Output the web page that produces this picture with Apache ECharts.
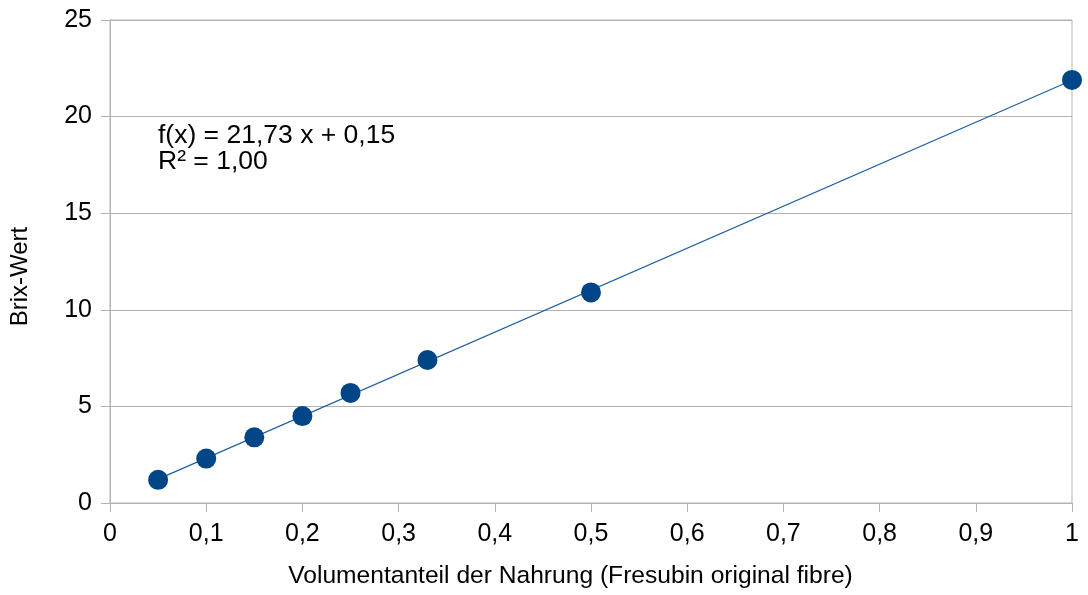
<!DOCTYPE html>
<html>
<head>
<meta charset="utf-8">
<script src="https://cdn.jsdelivr.net/npm/echarts@6/dist/echarts.min.js"></script>
<style>html,body{margin:0;padding:0;background:#fff}#c{width:1088px;height:595px}</style>
</head>
<body>
<div id="c"></div>
<script>
const xValues = [0.05, 0.1, 0.15, 0.2, 0.25, 0.33, 0.5, 1];
const brixValues = [1.2, 2.3, 3.4, 4.5, 5.7, 7.4, 10.9, 21.9];
const trendSlope = 21.73;
const trendIntercept = 0.15;
const trendLabel = ['f(x) = 21,73 x + 0,15', 'R² = 1,00'];
const xAxisName = 'Volumentanteil der Nahrung (Fresubin original fibre)';
const yAxisName = 'Brix-Wert';

const points = xValues.map((x, i) => [x, brixValues[i]]);
const xMin = Math.min(...xValues), xMax = Math.max(...xValues);
const trend = [[xMin, trendSlope * xMin + trendIntercept], [xMax, trendSlope * xMax + trendIntercept]];

const font = 'Liberation Sans, Arial, sans-serif';
const chart = echarts.init(document.getElementById('c'), null, {renderer: 'canvas'});
chart.setOption({
  animation: false,
  backgroundColor: '#ffffff',
  grid: {left: 110, right: 16, top: 20, bottom: 92, show: true, borderColor: '#b3b3b3', borderWidth: 1},
  xAxis: {
    type: 'value', min: 0, max: 1, interval: 0.1,
    name: xAxisName, nameLocation: 'middle', nameGap: 61,
    nameTextStyle: {fontFamily: font, fontSize: 24.6, color: '#000', padding: [0, 41, 0, 0]},
    axisLine: {show: true, lineStyle: {color: '#b3b3b3', width: 1}},
    axisTick: {show: true, length: 9, lineStyle: {color: '#b3b3b3'}},
    splitLine: {show: false},
    axisLabel: {fontFamily: font, fontSize: 25, color: '#000', margin: 19,
      formatter: v => String(Math.round(v * 10) / 10).replace('.', ',')}
  },
  yAxis: {
    type: 'value', min: 0, max: 25, interval: 5,
    name: yAxisName, nameLocation: 'middle', nameGap: 78, nameRotate: 90,
    nameTextStyle: {fontFamily: font, fontSize: 24, color: '#000', padding: [0, 30, 0, 0]},
    axisLine: {show: true, lineStyle: {color: '#b3b3b3', width: 1}},
    axisTick: {show: true, length: 9, lineStyle: {color: '#b3b3b3'}},
    splitLine: {show: true, lineStyle: {color: '#b3b3b3', width: 1}},
    axisLabel: {fontFamily: font, fontSize: 25, color: '#000', margin: 18}
  },
  series: [
    {type: 'line', data: trend, symbol: 'none', lineStyle: {color: '#1f5fa0', width: 1.2}, z: 2, silent: true},
    {type: 'scatter', data: points, symbol: 'circle', symbolSize: 20, itemStyle: {color: '#004586', opacity: 1}, z: 3}
  ],
  graphic: [{
    type: 'text', left: 158, top: 122,
    style: {text: trendLabel.join('\n'), font: '26.5px ' + font, fill: '#000', lineHeight: 26}
  }]
});
</script>
</body>
</html>
